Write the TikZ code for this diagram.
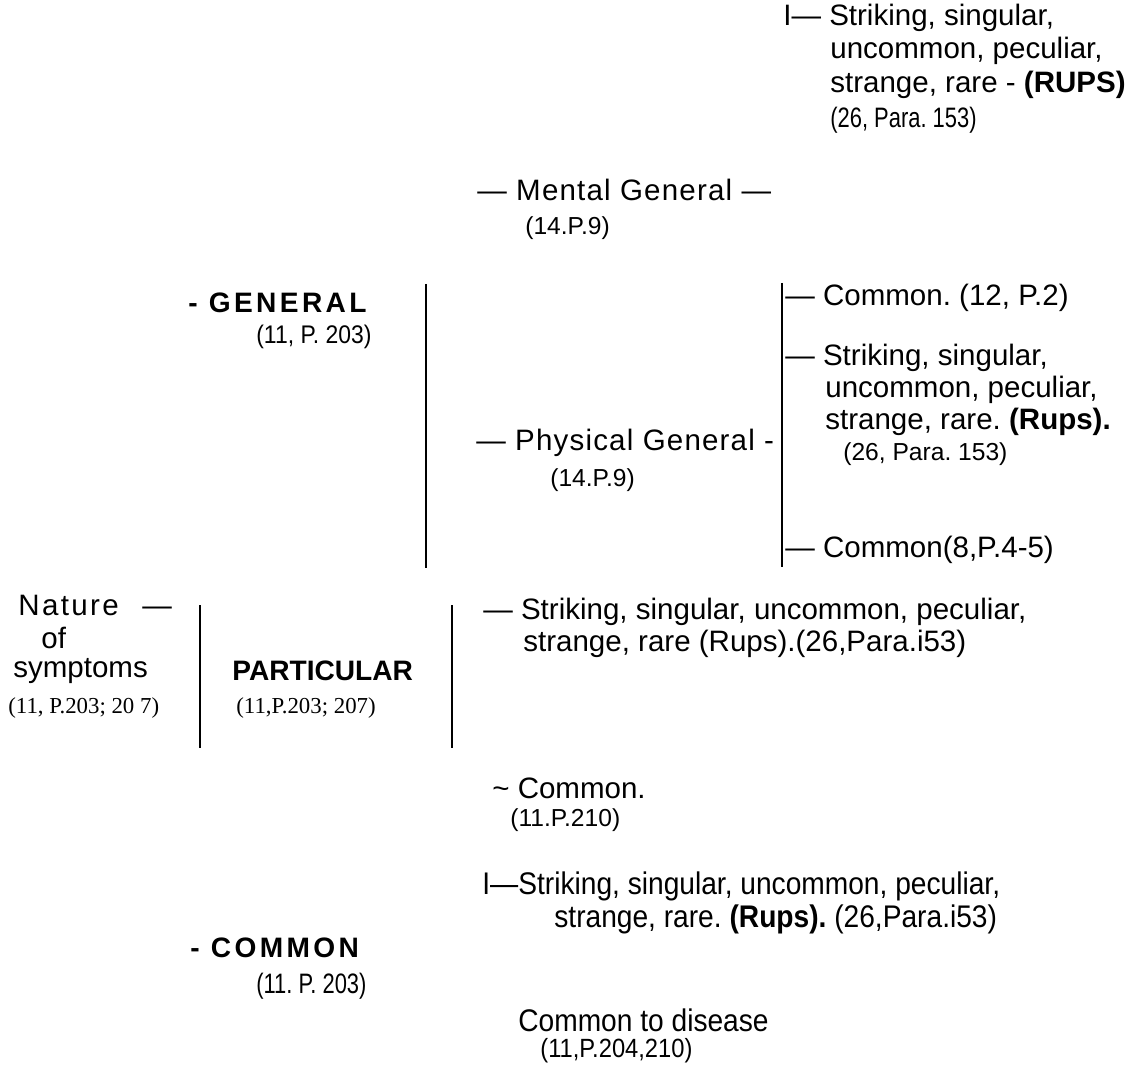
\documentclass[tikz,border=0pt]{standalone}
\usepackage{fontspec}
\setmainfont{Liberation Sans}
\newfontfamily\serifref{Liberation Serif}
\newfontfamily\narrow[FakeStretch=0.9]{Liberation Sans}
\newfontfamily\tight[FakeStretch=0.78]{Liberation Sans}
\newfontfamily\spaced[LetterSpace=12]{Liberation Sans}
\newfontfamily\wide[LetterSpace=4]{Liberation Sans}
\newfontfamily\wider[LetterSpace=8]{Liberation Sans}
\frenchspacing

\begin{document}
\begin{tikzpicture}[
	x=0.02cm, y=-0.02cm,
  txt/.style = {anchor=west, inner sep=0pt, font=\fontsize{16.8}{19}\selectfont},
  nar/.style = {anchor=west, inner sep=0pt, font=\narrow\fontsize{17.8}{20}\selectfont},
  ref/.style = {anchor=west, inner sep=0pt, font=\fontsize{14}{16}\selectfont},
  tref/.style = {anchor=west, inner sep=0pt, font=\tight\fontsize{16}{18}\selectfont},
  sref/.style = {anchor=west, inner sep=0pt, font=\serifref\fontsize{13}{15}\selectfont},
  head/.style = {anchor=west, inner sep=0pt, font=\spaced\bfseries\fontsize{16}{18}\selectfont},
  bar/.style = {line width=1.1pt}
  ]
	\useasboundingbox (0,0) rectangle (1138,1067);

	\node[txt] (rups1) at (783,18) {I— Striking, singular,};
	\node[txt] (rups2) at (830,51) {uncommon, peculiar,};
	\node[txt] (rups3) at (830,85) {strange, rare - \textbf{(RUPS)}};
	\node[tref] (rups4) at (830,120) {(26, Para. 153)};

	\node[txt,font=\wide\fontsize{16.8}{19}\selectfont] (mental) at (477,190) {— Mental General —};
	\node[ref] (mentalref) at (525,228) {(14.P.9)};

	\node[head] (general) at (188,303) {- GENERAL};
	\node[ref,font=\narrow\fontsize{14.5}{16}\selectfont] (generalref) at (256,337) {(11, P. 203)};

	\coordinate (ga) at (426,284);
	\coordinate (gb) at (426,568);
	\draw[bar] (ga) -- (gb);

	\node[txt,font=\wide\fontsize{16.8}{19}\selectfont] (physical) at (476,443) {— Physical General -};
	\node[ref] (physicalref) at (550,480) {(14.P.9)};

	\coordinate (pa) at (782,283);
	\coordinate (pb) at (782,567);
	\draw[bar] (pa) -- (pb);

	\node[txt] (pcommon) at (785,298) {— Common. (12, P.2)};
	\node[txt] (prups1) at (785,358) {— Striking, singular,};
	\node[txt] (prups2) at (825,390) {uncommon, peculiar,};
	\node[txt] (prups3) at (825,422) {strange, rare. \textbf{(Rups).}};
	\node[ref] (prups4) at (843,454) {(26, Para. 153)};
	\node[txt] (pcommon2) at (785,550) {— Common(8,P.4-5)};

	\node[txt,font=\wider\fontsize{16.8}{19}\selectfont] (nature) at (18,605) {Nature\hspace{0.8em}—};
	\node[txt] (of) at (41,638) {of};
	\node[txt] (symptoms) at (13,671) {symptoms};
	\node[sref] (natureref) at (8,708) {(11, P.203; 20 7)};

	\coordinate (ca) at (200,605);
	\coordinate (cb) at (200,748);
	\draw[bar] (ca) -- (cb);

	\node[txt,font=\bfseries\fontsize{16}{19}\selectfont] (particular) at (232,671) {PARTICULAR};
	\node[sref] (particularref) at (236,708) {(11,P.203; 207)};

	\coordinate (da) at (452,605);
	\coordinate (db) at (452,748);
	\draw[bar] (da) -- (db);

	\node[txt] (srups1) at (483,612) {— Striking, singular, uncommon, peculiar,};
	\node[txt] (srups2) at (523,644) {strange, rare (Rups).(26,Para.i53)};

	\node[txt] (scommon) at (492,788) {\textasciitilde\ Common.};
	\node[ref] (scommonref) at (510,820) {(11.P.210)};

	\node[nar] (crups1) at (482,886) {I—Striking, singular, uncommon, peculiar,};
	\node[nar] (crups2) at (554,919) {strange, rare. \textbf{(Rups).} (26,Para.i53)};

	\node[head] (common) at (190,948) {- COMMON};
	\node[tref] (commonref) at (256,986) {(11. P. 203)};

	\node[nar] (disease) at (518,1020) {Common to disease};
	\node[nar,font=\narrow\fontsize{15}{17}\selectfont] (diseaseref) at (540,1051) {(11,P.204,210)};

\end{tikzpicture}
\end{document}
